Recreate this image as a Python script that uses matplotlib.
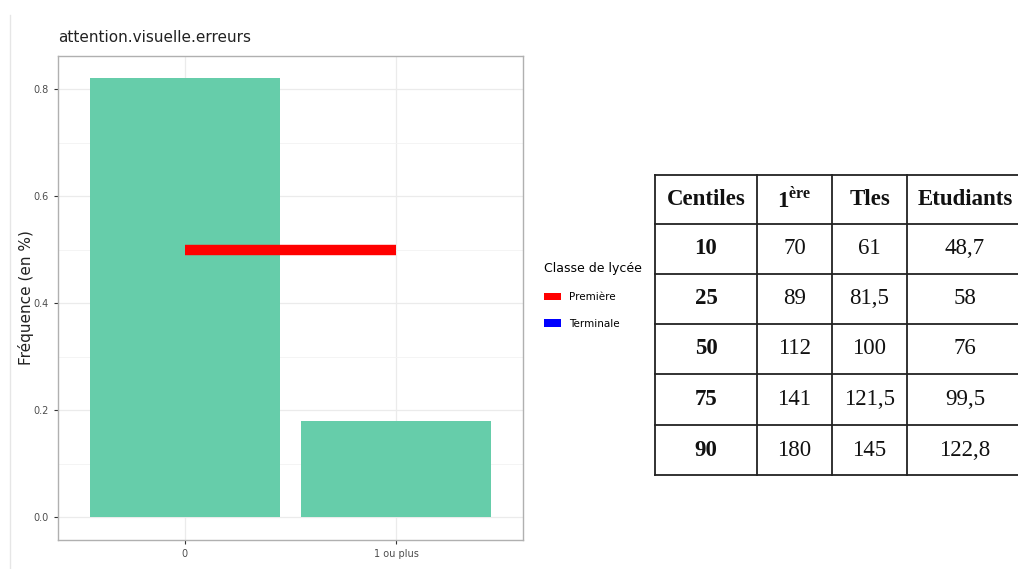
import matplotlib
matplotlib.use("Agg")
import matplotlib.pyplot as plt
from matplotlib.patches import Patch

# données du graphique
categories = ["0", "1 ou plus"]
frequences = [0.82, 0.18]
premiere_y = 0.5
legende_labels = ["Première", "Terminale"]
legende_couleurs = ["#FF0000", "#0000FF"]

# données du tableau
entetes = ["Centiles", "1$^{\\mathregular{ère}}$", "Tles", "Etudiants"]
centiles = ["10", "25", "50", "75", "90"]
premiere = ["70", "89", "112", "141", "180"]
tles = ["61", "81,5", "100", "121,5", "145"]
etudiants = ["48,7", "58", "76", "99,5", "122,8"]

W, H = 1018, 569
fig = plt.figure(figsize=(W / 100, H / 100), dpi=100)


def boite(x0, y0, x1, y1):
    return [x0 / W, 1 - y1 / H, (x1 - x0) / W, (y1 - y0) / H]


# fine ligne grise à gauche (bord de l'image d'origine)
fig.add_artist(plt.Line2D([10 / W, 10 / W], [0.0, 1 - 15 / H], color="#e6e6e6", lw=1))

ax = fig.add_axes(boite(58, 56, 523, 540))
x = list(range(len(categories)))
ax.bar(x, frequences, width=0.9, color="#66CDAA", zorder=2)
ax.plot([x[0], x[1]], [premiere_y, premiere_y], color=legende_couleurs[0], lw=7.5,
        solid_capstyle="butt", zorder=3)
ax.set_xlim(-0.6, 1.6)
ax.set_ylim(-0.043, 0.862)
ax.set_xticks(x)
ax.set_xticklabels(categories)
ax.set_yticks([0.0, 0.2, 0.4, 0.6, 0.8])
ax.set_yticklabels(["0.0", "0.2", "0.4", "0.6", "0.8"])
ax.set_yticks([0.1, 0.3, 0.5, 0.7], minor=True)
ax.grid(True, which="major", color="#ebebeb", lw=0.9, zorder=0)
ax.grid(True, which="minor", axis="y", color="#f3f3f3", lw=0.6, zorder=0)
ax.tick_params(which="minor", length=0)
ax.tick_params(which="major", labelsize=7, labelcolor="#4d4d4d", color="#333333", length=3)
for s in ax.spines.values():
    s.set_color("#b0b0b0")
    s.set_linewidth(1.0)
ax.set_ylabel("Fréquence (en %)", fontsize=11, color="#222222")
ax.yaxis.set_label_coords(-0.052, 0.5)
ax.set_title("attention.visuelle.erreurs", loc="left", fontsize=11, color="#222222", pad=10)

poignees = [Patch(facecolor=c, edgecolor="none") for c in legende_couleurs]
fig.legend(poignees, legende_labels, title="Classe de lycée", loc="upper left",
           bbox_to_anchor=(535 / W, 1 - 253 / H), frameon=False, fontsize=7.5,
           title_fontsize=9, handlelength=1.6, handleheight=0.7, labelspacing=1.6,
           handletextpad=0.8, alignment="left")

# tableau
tx = fig.add_axes(boite(654, 174, 1018, 476))
tx.set_xlim(654, 1018)
tx.set_ylim(476, 174)
tx.axis("off")
col_bords = [655, 757, 832, 907, 1018]
lig_bords = [175, 224, 274, 324, 374, 425, 475]
for yb in lig_bords:
    tx.plot([col_bords[0], col_bords[-1]], [yb, yb], color="#222222", lw=1.3, clip_on=False)
for xb in col_bords[:-1]:
    tx.plot([xb, xb], [lig_bords[0], lig_bords[-1]], color="#222222", lw=1.3, clip_on=False)

serif = "Liberation Serif"
centres = [(col_bords[i] + col_bords[i + 1]) / 2 for i in range(4)]
centres[3] = 965
for j, t in enumerate(entetes):
    yy = (lig_bords[0] + lig_bords[1]) / 2
    tx.text(centres[j], yy, t, ha="center", va="center", fontsize=16.5, fontweight="bold",
            family=serif, color="#111111")
colonnes = [centiles, premiere, tles, etudiants]
for i in range(len(centiles)):
    yy = (lig_bords[i + 1] + lig_bords[i + 2]) / 2
    for j, col in enumerate(colonnes):
        tx.text(centres[j], yy, col[i], ha="center", va="center", fontsize=16.5,
                fontweight="bold" if j == 0 else "normal", family=serif, color="#111111")

fig.savefig("out.png", dpi=100)
